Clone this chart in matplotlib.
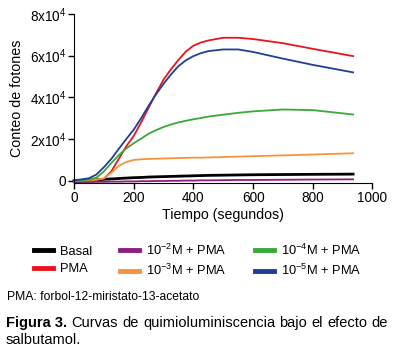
import matplotlib
matplotlib.use('Agg')
import matplotlib.pyplot as plt

plt.rcParams['font.family'] = ['Liberation Sans', 'DejaVu Sans']
plt.rcParams['mathtext.fontset'] = 'custom'
plt.rcParams['mathtext.rm'] = 'Liberation Sans'
plt.rcParams['mathtext.it'] = 'Liberation Sans'

# tiempo (s) and conteo (x1000)
t = [0, 50, 75, 100, 125, 150, 175, 200, 225, 250, 275, 300, 325, 350, 375, 400,
     425, 450, 500, 550, 600, 700, 800, 935]

basal = [0.0, 0.3, 0.5, 0.7, 0.9, 1.1, 1.3, 1.5, 1.6, 1.8, 1.9, 2.0, 2.1, 2.2, 2.3, 2.4,
         2.5, 2.6, 2.7, 2.8, 2.9, 3.0, 3.1, 3.2]
pma = [0.2, 0.3, 0.5, 1.0, 4.5, 10.5, 16.5, 21.5, 28.0, 35.0, 42.0, 48.5, 53.5, 58.0, 62.0, 64.8,
       66.3, 67.3, 68.6, 68.6, 68.0, 66.0, 63.3, 59.8]
m2 = [-0.7, -0.6, -0.5, -0.5, -0.4, -0.4, -0.3, -0.3, -0.2, -0.2, -0.1, -0.1, 0.0, 0.0, 0.1, 0.1,
      0.2, 0.2, 0.3, 0.4, 0.4, 0.5, 0.6, 0.7]
m3 = [0.0, 0.2, 0.5, 1.2, 3.8, 7.2, 9.0, 10.0, 10.3, 10.5, 10.6, 10.7, 10.8, 10.9, 11.0, 11.1,
      11.1, 11.2, 11.4, 11.6, 11.8, 12.2, 12.6, 13.2]
m4 = [0.0, 0.5, 1.5, 4.5, 8.5, 12.3, 15.5, 18.0, 20.2, 22.6, 24.3, 25.8, 27.0, 28.0, 28.8, 29.5,
      30.1, 30.8, 31.7, 32.6, 33.3, 34.2, 33.9, 31.8]
m5 = [0.2, 1.2, 3.0, 6.5, 10.5, 15.3, 20.0, 24.5, 30.0, 36.0, 41.5, 46.5, 51.0, 55.0, 57.8, 59.8,
      61.2, 62.2, 63.0, 63.0, 61.8, 58.6, 55.6, 52.0]

series = [
    (basal, 'Basal', '#000000', 2.0),
    (pma, 'PMA', '#e8141c', 1.3),
    (m2, '10$^{-2}$M + PMA', '#8e1c7f', 1.3),
    (m3, '10$^{-3}$M + PMA', '#f7923a', 1.3),
    (m4, '10$^{-4}$M + PMA', '#3aa935', 1.3),
    (m5, '10$^{-5}$M + PMA', '#1d3f94', 1.3),
]

fig = plt.figure(figsize=(3.95, 3.5), dpi=100)
ax = fig.add_axes([0.1873, 0.4763, 0.7557, 0.4837])

for vals, lab, col, lw in series:
    ax.plot(t, [v * 1000 for v in vals], color=col, lw=lw, label=lab, clip_on=False)

ax.set_xlim(0, 1000)
ax.set_ylim(-1200, 80000)
ax.set_xticks([0, 200, 400, 600, 800, 1000])
ax.set_yticks([0, 20000, 40000, 60000, 80000])
ax.set_yticklabels(['0', '2x10$^4$', '4x10$^4$', '6x10$^4$', '8x10$^4$'])
ax.spines['top'].set_visible(False)
ax.spines['right'].set_visible(False)
ax.tick_params(labelsize=9.8, length=4, width=1, pad=1.5)
ax.set_xlabel('Tiempo (segundos)', fontsize=10.2, labelpad=2)
ax.set_ylabel('Conteo de fotones', fontsize=10.3, labelpad=4)

handles, labels = ax.get_legend_handles_labels()
leg = fig.legend(handles, labels, ncol=3, loc='upper left', bbox_to_anchor=(0.07, 0.326),
                 frameon=False, fontsize=9.3, handlelength=1.45, handletextpad=0.55,
                 columnspacing=2.2, labelspacing=0.42, borderpad=0)
for ln in leg.get_lines():
    ln.set_linewidth(3.5)

fig.text(0.017, 0.152, 'PMA: forbol-12-miristato-13-acetato', fontsize=8.7, va='center')

# justified caption line
words = ['Curvas', 'de', 'quimioluminiscencia', 'bajo', 'el', 'efecto', 'de']
renderer = fig.canvas.get_renderer()
x0, x1, ycap = 6, 388, 350 - 323
bold = fig.text(x0 / 395, ycap / 350, 'Figura 3.', fontsize=10.5, fontweight='bold', va='center')
wb = bold.get_window_extent(renderer).width
objs = [fig.text(0, ycap / 350, w, fontsize=10.5, va='center') for w in words]
widths = [o.get_window_extent(renderer).width for o in objs]
gap = (x1 - x0 - wb - sum(widths)) / len(words)
x = x0 + wb + gap
for o, w in zip(objs, widths):
    o.set_x(x / 395)
    x += w + gap
fig.text(x0 / 395, (350 - 340) / 350, 'salbutamol.', fontsize=10.5, va='center')

fig.savefig('out.png', dpi=100)
